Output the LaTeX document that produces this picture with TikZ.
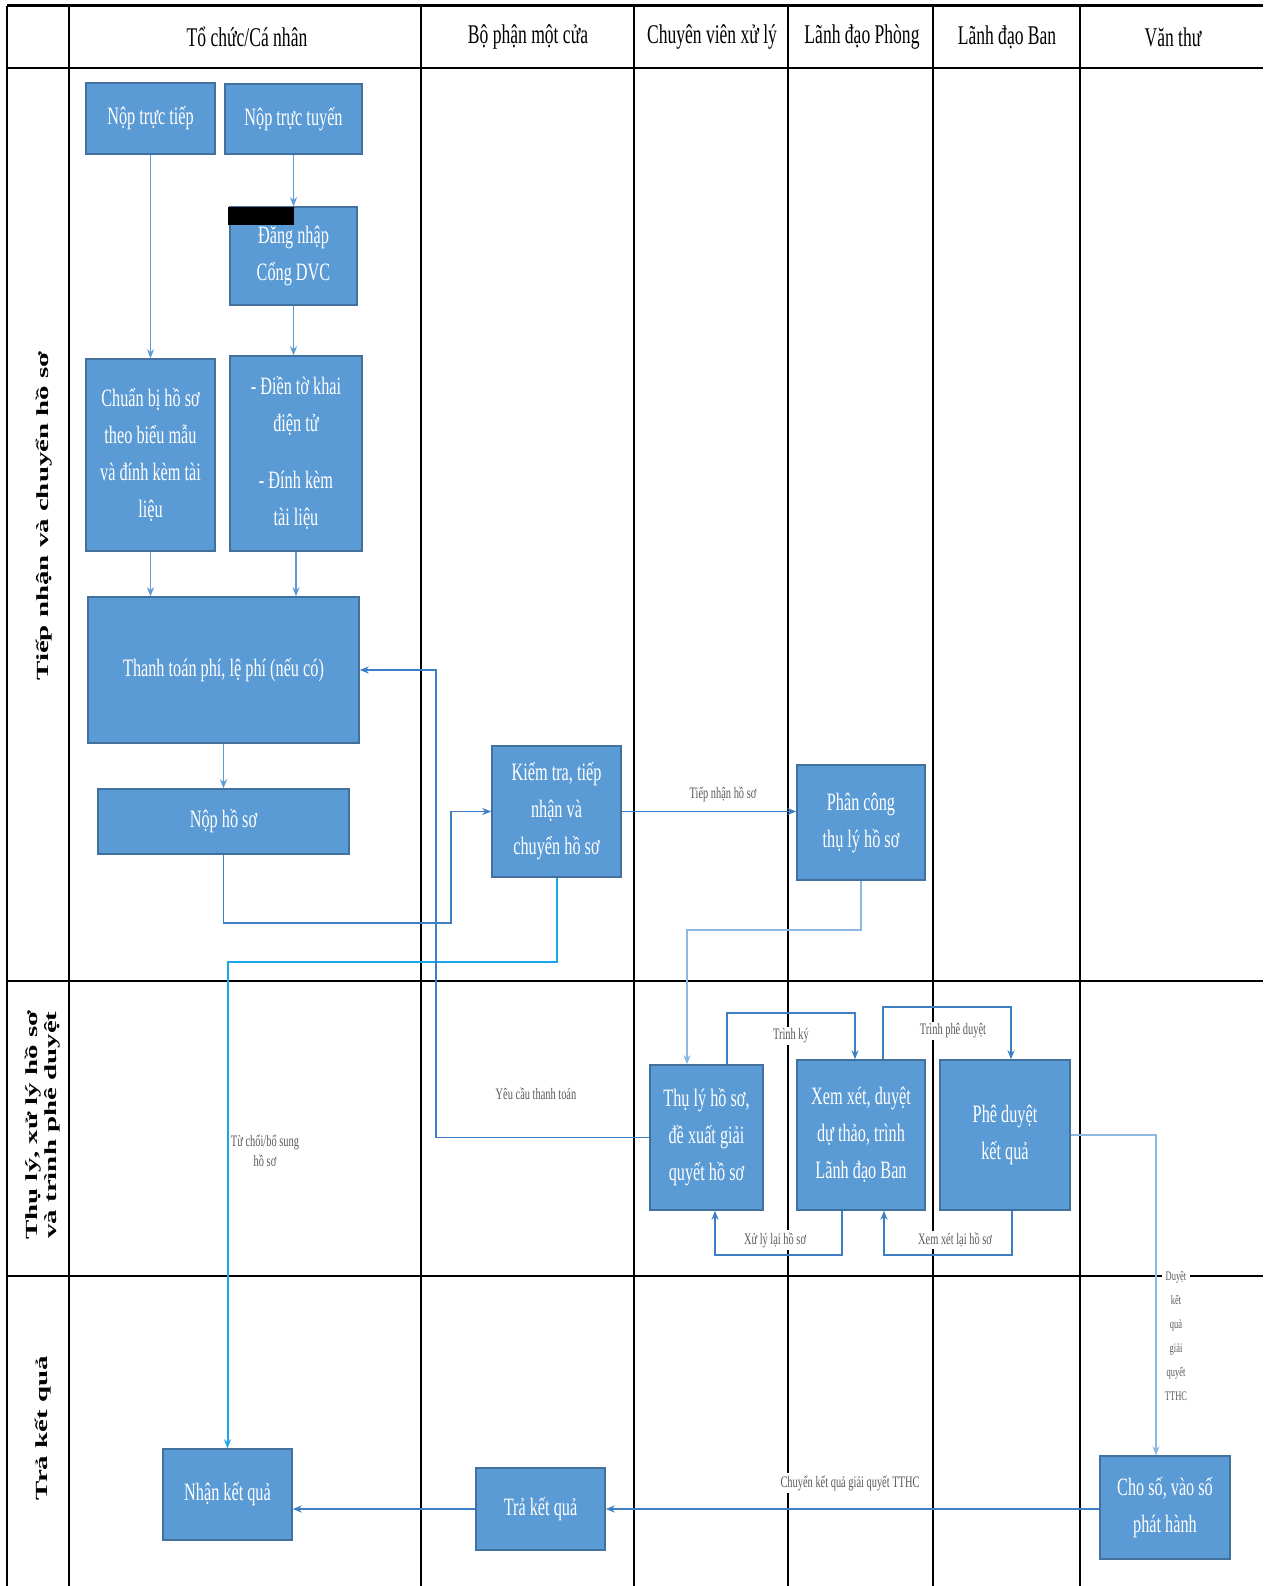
\documentclass[tikz,border=0pt]{standalone}
\usepackage{fontspec}
\setmainfont{Liberation Serif}
\newfontfamily\cf[FakeStretch=0.65]{Liberation Serif}
\newfontfamily\lf[FakeStretch=1.7]{Liberation Serif}
\usetikzlibrary{arrows.meta}
\definecolor{boxfill}{HTML}{5B9BD5}
\definecolor{boxline}{HTML}{41719C}
\definecolor{conn}{HTML}{3D7EC4}
\definecolor{midconn}{HTML}{5B9BD5}
\definecolor{lightconn}{HTML}{8DB8E2}
\definecolor{cyanconn}{HTML}{1AA7E8}
\definecolor{lblgray}{HTML}{5A5A5A}
\begin{document}
\begin{tikzpicture}[x=1pt,y=-1pt,
  box/.style={draw=boxline, fill=boxfill, line width=1.5pt, text=white,
    font=\cf\fontsize{25}{37}\selectfont, align=center, inner sep=0pt},
  hdr/.style={font=\cf\fontsize{27}{30}\selectfont, text=black},
  lane/.style={font=\lf\bfseries\fontsize{17}{19}\selectfont, rotate=90, align=center},
  lbl/.style={font=\cf\fontsize{16}{20}\selectfont, text=lblgray, align=center, inner sep=2pt, fill=white},
  grid/.style={draw=black, line width=2pt},
  arr/.style={draw=conn, line width=1.6pt, -{Stealth[length=9pt,width=7pt]}},
  marr/.style={draw=midconn, line width=1.8pt, -{Stealth[length=9pt,width=7pt]}},
  larr/.style={draw=lightconn, line width=1.6pt, -{Stealth[length=9pt,width=7pt]}},
  carr/.style={draw=cyanconn, line width=2pt, -{Stealth[length=9pt,width=7pt]}}
]
\useasboundingbox (0,0) rectangle (1263,1586);
\fill[white] (0,0) rectangle (1263,1586);

% table
\draw[grid, line width=3pt] (7,6) -- (1263,6);
\draw[grid] (7,68) -- (1263,68);
\draw[grid] (7,981) -- (1263,981);
\draw[grid] (7,1276) -- (1263,1276);
\foreach \xx in {7,69,421,634,788,933,1080} {\draw[grid] (\xx,6) -- (\xx,1586);}

% headers
\node[hdr] (h1) at (247,37) {Tổ chức/Cá nhân};
\node[hdr] (h2) at (528,37) {Bộ phận một cửa};
\node[hdr] (h3) at (712,37) {Chuyên viên xử lý};
\node[hdr] (h4) at (862,37) {Lãnh đạo Phòng};
\node[hdr] (h5) at (1007,37) {Lãnh đạo Ban};
\node[hdr] (h6) at (1173,37) {Văn thư};

% lane labels
\node[lane] (l1) at (44,516) {Tiếp nhận và chuyển hồ sơ};
\node[lane] (l2) at (43,1125) {Thụ lý, xử lý hồ sơ\\và trình phê duyệt};
\node[lane] (l3) at (43,1428) {Trả kết quả};

% boxes
\node[box, minimum width=129pt, minimum height=71pt] (tructiep) at (150.5,118.5) {Nộp trực tiếp};
\node[box, minimum width=137pt, minimum height=70pt] (tructuyen) at (293.5,119) {Nộp trực tuyến};
\node[box, minimum width=127pt, minimum height=98pt] (dangnhap) at (293.5,256) {Đăng nhập\\Cổng DVC};
\node[box, minimum width=129pt, minimum height=192pt] (chuanbi) at (150.5,455) {Chuẩn bị hồ sơ\\theo biểu mẫu\\và đính kèm tài\\liệu};
\node[box, minimum width=132pt, minimum height=195pt] (dienkhai) at (296,453.5) {- Điền tờ khai\\điện tử\\[20pt]- Đính kèm\\tài liệu};
\node[box, minimum width=271pt, minimum height=146pt] (thanhtoan) at (223.5,670) {Thanh toán phí, lệ phí (nếu có)};
\node[box, minimum width=251pt, minimum height=65pt] (nophs) at (223.5,821.5) {Nộp hồ sơ};
\node[box, minimum width=129pt, minimum height=131pt] (kiemtra) at (556.5,811.5) {Kiểm tra, tiếp\\nhận và\\chuyển hồ sơ};
\node[box, minimum width=128pt, minimum height=115pt] (phancong) at (861,822.5) {Phân công\\thụ lý hồ sơ};
\node[box, minimum width=113pt, minimum height=145pt] (thuly) at (706.5,1137.5) {Thụ lý hồ sơ,\\đề xuất giải\\quyết hồ sơ};
\node[box, minimum width=128pt, minimum height=150pt] (xemxet) at (861,1135) {Xem xét, duyệt\\dự thảo, trình\\Lãnh đạo Ban};
\node[box, minimum width=130pt, minimum height=150pt] (pheduyet) at (1005,1135) {Phê duyệt\\kết quả};
\node[box, minimum width=129pt, minimum height=91pt] (nhan) at (227.5,1494.5) {Nhận kết quả};
\node[box, minimum width=129pt, minimum height=82pt] (tra) at (540.5,1509) {Trả kết quả};
\node[box, minimum width=130pt, minimum height=103pt] (choso) at (1165,1507.5) {Cho số, vào số\\phát hành};
\fill[black] (228,207) rectangle (294,225);

% connectors
\draw[marr] (tructiep.south) -- (chuanbi.north);
\draw[marr] (tructuyen.south) -- (dangnhap.north);
\draw[marr] (dangnhap.south) -- (dangnhap.south |- dienkhai.north);
\draw[marr] (chuanbi.south) -- (chuanbi.south |- thanhtoan.north);
\draw[marr] (dienkhai.south) -- (dienkhai.south |- thanhtoan.north);
\draw[marr] (thanhtoan.south) -- (nophs.north);
\draw[arr] (nophs.south) |- (451,923) |- (kiemtra.west);
\draw[arr] (kiemtra.east) -- (kiemtra.east -| phancong.west);
\node[lbl] (t1) at (723,794) {Tiếp nhận hồ sơ};
\draw[carr] (kiemtra.south) |- (nhan.north |- 0,962) -- (nhan.north);
\node[lbl] (t2) at (265,1151) {Từ chối/bổ sung\\hồ sơ};
\draw[larr] (phancong.south) |- (800,930) -| ([xshift=-19.5pt]thuly.north);
\draw[arr] (thuly.west) -- (436,1137.5) |- (thanhtoan.east);
\node[lbl] (t3) at (536,1094) {Yêu cầu thanh toán};
\draw[arr] ([xshift=20.5pt]thuly.north) -- ++(0,-51) -| ([xshift=-6pt]xemxet.north);
\node[lbl] (t4) at (791,1036) {Trình ký};
\draw[arr] ([xshift=22pt]xemxet.north) -- ++(0,-52) -| ([xshift=6pt]pheduyet.north);
\node[lbl] (t5) at (953,1031) {Trình phê duyệt};
\draw[arr] ([xshift=-19pt]xemxet.south) -- ++(0,44) -| ([xshift=8.5pt]thuly.south);
\node[lbl] (t6) at (775,1240) {Xử lý lại hồ sơ};
\draw[arr] ([xshift=7pt]pheduyet.south) -- ++(0,44) -| ([xshift=23pt]xemxet.south);
\node[lbl] (t7) at (955,1240) {Xem xét lại hồ sơ};
\draw[larr] (pheduyet.east) -| ([xshift=-9pt]choso.north);
\node[lbl, font=\cf\fontsize{13}{24}\selectfont, inner sep=3pt] (t8) at (1176,1336) {Duyệt\\kết\\quả\\giải\\quyết\\TTHC};
\draw[arr] (choso.west |- tra.east) -- (tra.east);
\node[lbl] (t9) at (850,1483) {Chuyển kết quả giải quyết TTHC};
\draw[arr] (tra.west) -- (tra.west -| nhan.east);
\end{tikzpicture}
\end{document}
